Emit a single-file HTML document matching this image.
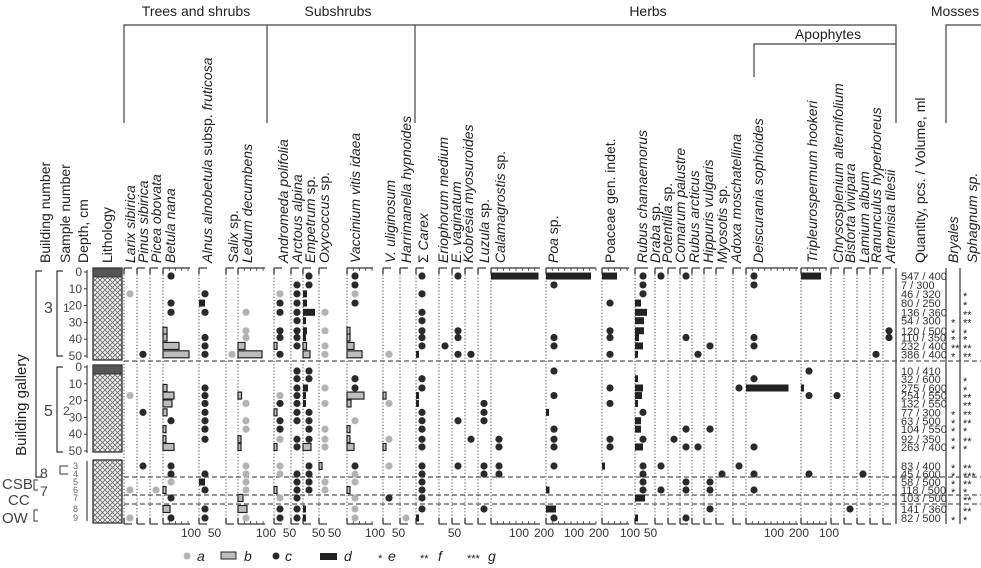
<!DOCTYPE html>
<html><head><meta charset="utf-8"><style>
html,body{margin:0;padding:0;background:#fff}
svg{display:block;font-family:"Liberation Sans",sans-serif;fill:#222}
</style></head><body>
<svg id="chart" width="981" height="568" viewBox="0 0 981 568" xmlns="http://www.w3.org/2000/svg">
<g id="hdr" stroke="#444" stroke-width="1.2" fill="none">
<polyline points="124,123 124,25 896,25 896,123"/>
<line x1="267" y1="25" x2="267" y2="123"/>
<line x1="415" y1="25" x2="415" y2="123"/>
<polyline points="754,77 754,44 896,44"/>
<polyline points="946,123 946,25 981,25"/>
</g>
<g font-size="14">
<text x="196" y="16" text-anchor="middle">Trees and shrubs</text>
<text x="338" y="16" text-anchor="middle">Subshrubs</text>
<text x="648" y="16" text-anchor="middle">Herbs</text>
<text x="828" y="39" text-anchor="middle">Apophytes</text>
<text x="955" y="16" text-anchor="middle">Mosses</text>
</g>
<g id="labels" font-size="14"></g>
<g id="left"></g>
<g id="cols"></g>
<g id="marks"></g>
<g id="legend" font-size="14"></g>
</svg>
<script>
const NS="http://www.w3.org/2000/svg";
function mk(tag,attrs,parent,txt){const e=document.createElementNS(NS,tag);for(const k in attrs)e.setAttribute(k,attrs[k]);if(txt!==undefined)e.textContent=txt;parent.appendChild(e);return e;}

// ---- data ----
const taxa=["Larix sibirica","Pinus sibirica","Picea obovata","Betula nana","Alnus alnobetula subsp. fruticosa","Salix sp.","Ledum decumbens","Andromeda polifolia","Arctous alpina","Empetrum sp.","Oxycoccus sp.","Vaccinium vitis idaea","V. uliginosum","Harrimanella hypnoides","Σ Carex","Eriophorum medium","E. vaginatum","Kobresia myosuroides","Luzula sp.","Calamagrostis sp.","Poa sp.","Poaceae gen. indet.","Rubus chamaemorus","Draba sp.","Potentilla sp.","Comarum palustre","Rubus arcticus","Hippuris vulgaris","Myosotis sp.","Adoxa moschatellina","Deiscurania sophioides","Tripleurospermum hookeri","Chrysosplenium alternifolium","Bistorta vivipara","Lamium album","Ranunculus hyperboreus","Artemisia tilesii"];
const sampleSection=[0,0,0,0,0,0,0,0,0,0,1,1,1,1,1,1,1,1,1,1,2,2,2,2,2,2,2];
const sampleDepth=[2.4,7.7,13,18.5,24,29,35,39,44,49,2.4,7,12.5,17,21.7,27,32,37,43,47.6,0,1,2,3,4,5.3,6.4];
const quantities=["547 / 400","7 / 300","46 / 320","80 / 250","136 / 360","54 / 300","120 / 500","110 / 350","232 / 400","386 / 400","10 / 410","32 / 600","275 / 600","254 / 550","132 / 550","77 / 300","63 / 500","104 / 550","92 / 350","263 / 400","83 / 400","45 / 600","58 / 500","118 / 500","103 / 500","141 / 360","82 / 500"];
const bryales=[0,0,0,0,0,1,1,1,2,1,0,0,0,0,0,1,1,1,1,1,1,1,1,1,0,0,1];
const sphagnum=[0,0,1,1,2,2,1,1,2,2,0,1,1,2,2,2,2,1,2,1,2,3,2,1,2,2,1];
const dotsA=[[2,13,23,26],[],[23],[22],[],[9],[4,6,7,14,16,17,20,21,22,23,26],[2,13,18,20,21,24],[],[],[4,6,8,9,12,14,17,18,19,22,23],[2,16,21,22,24,25,26],[9,14,18,20],[26],[],[],[],[],[],[],[],[],[],[],[],[],[],[],[],[],[],[],[],[],[],[],[]];
const dotsC=[[],[9,15,20],[],[0,3,4,16,20,21,24,26],[2,4,7,8,9,12,13,14,15,16,17,18,21,23,25,26],[],[],[3,4,6,7,9,14,16,17,25,26],[1,2,3,4,5,6,7,8,10,11,12,13,14,15,16,18,19,21,22,23,24,25,26],[0,1,10,11,15,16,17,18,20,21,22,23],[],[0,1,3,11,12,20],[24],[],[0,2,4,5,6,7,8,11,12,15,16,17,18,19,20,21,22,23,24,25],[8],[0,6,7,9,16,20],[9,18],[14,15,16,20,21,25],[18,19,20,21],[1,7,8,10,13,17,18,19,20,26],[3,6,7,9,12,14,18,19],[0,1,2,15,18,20,21,22,23],[0,20,23],[18],[0,7,17,19,22,23,26],[9,19],[8,17,22,23,25],[21],[12,20],[0,1,7,8,11,19,21,23],[10,13,21],[13],[25],[21],[9],[6,7]];
const barTaxon=[3,3,3,3,3,3,3,3,3,3,3,3,3,4,4,6,6,6,6,6,6,6,7,7,7,7,9,9,9,9,9,9,9,9,9,9,9,9,9,9,10,11,11,11,11,11,11,11,11,11,11,12,12,14,14,14,14,19,20,20,20,20,21,21,22,22,22,22,22,22,22,22,22,22,22,22,22,22,22,22,30,31,31];
const barRow=[6,7,8,9,12,13,14,15,17,18,19,23,25,3,22,8,9,13,18,19,24,25,8,15,19,23,2,3,4,5,6,7,8,9,12,13,14,19,25,26,20,6,7,8,9,13,14,17,18,19,23,13,19,9,13,14,26,0,0,15,23,25,0,20,3,4,5,6,7,8,9,11,12,13,14,16,17,19,24,26,12,0,12];
const barType=["b","b","b","b","b","b","b","b","b","b","b","b","b","d","d","b","b","b","b","b","b","b","b","b","b","b","d","d","d","d","d","d","b","b","d","d","d","b","d","d","b","b","b","b","b","b","b","b","b","b","b","b","b","d","d","d","d","d","d","d","d","d","d","d","d","d","d","d","d","d","d","d","d","d","d","d","d","d","d","d","d","d","d"];
const barValue=[16,16,64,104,16,44,36,16,12,12,44,12,28,24,24,28,96,14,12,12,20,36,12,12,12,12,16,16,48,12,16,12,14,28,20,12,10,32,8,12,8,12,12,28,60,68,16,12,12,28,12,12,12,8,8,8,8,190,180,12,14,40,60,10,24,48,36,36,16,32,8,8,32,28,12,24,24,32,40,8,170,80,4];
const tickText=["100","50","100","50","50","50","100","50","50","100","200","100","200","100","50","100","200","100"];
const tickTaxon=[3,4,6,7,9,10,11,12,15,19,19,20,20,21,22,30,30,31];
const tickUnits=[100,50,100,50,50,50,100,50,50,100,200,100,200,100,50,100,200,100];

// ---- layout ----
const colX=[124,137,150,163,199,226,238,274,291,303,319,347,383,400,416,439,452,465,478,491,546,602,635,655,668,680,692,704,716,733,746,801,831,844,857,870,883];
const colEnd=[132,145,158,190,207,234,265,282,299,311,327,373,391,408,424,447,460,473,486,540,596,629,648,663,676,688,700,712,724,741,798,827,839,852,865,878,891];
const labX=[130,143,156,170,207,233,247,283,297,310,324,355,390,406,423,443,456,468,484,500,553,610,642,655,667,680,694,708,722,736,758,812,838,850,864,876,890];
const UNIT=0.25;
const TOP=268,BOT=524;
const secTop=[272,367,0];
const bottomY=[466,474,482,490,498,509,518];
function rowY(r){const s=sampleSection[r];return s<2?secTop[s]+sampleDepth[r]*1.68:bottomY[Math.round(sampleDepth[r])];}
function dotX(i){return colX[i]+((colEnd[i]-colX[i])>10?8:6);}
function barX(i,v){return UNIT*v;}

const labels=document.getElementById('labels'),cols=document.getElementById('cols'),marks=document.getElementById('marks'),left=document.getElementById('left');

const plain=/^(sp\.|subsp\.|gen\.|indet\.|Σ)$/;
taxa.forEach((t,i)=>{
  const tx=mk('text',{x:labX[i]+5,y:263,transform:`rotate(-90 ${labX[i]+5} 263)`},labels);
  
  
  t.split(' ').forEach((w,k)=>{const sp=mk('tspan',{},tx,(k?' ':'')+w);if(!plain.test(w)&&i!==21)sp.setAttribute('font-style','italic');});
});
[["Building number",50],["Sample number",70],["Depth, cm",88],["Lithology",112],["Quantity, pcs. / Volume, ml",925],["Bryales",958],["Sphagnum sp.",977]].forEach(([t,x],k)=>{
  const tx=mk('text',{x:x,y:263,transform:`rotate(-90 ${x} 263)`,'font-style':k>4?'italic':'normal'},labels,t);
  
  
});

taxa.forEach((t,i)=>{
  const g=mk('g',{},cols);
  
  
  const x=colX[i],e=colEnd[i];
  mk('line',{x1:x,y1:TOP,x2:x,y2:BOT,stroke:'#444','stroke-width':1,'stroke-dasharray':'1.2,2'},g);
  mk('line',{x1:x,y1:TOP,x2:x,y2:TOP+6,stroke:'#333','stroke-width':1.3},g);
  mk('line',{x1:x,y1:BOT-6,x2:x,y2:BOT,stroke:'#333','stroke-width':1.3},g);
  [TOP,BOT].forEach(y=>{
    mk('line',{x1:x,y1:y,x2:e,y2:y,stroke:'#333','stroke-width':1.2},g);
    if(e-x>20){for(let u=25;x+u*UNIT<=e+0.5;u+=25){mk('line',{x1:x+u*UNIT,y1:y===TOP?y:y-3,x2:x+u*UNIT,y2:y===TOP?y+3:y,stroke:'#333','stroke-width':0.8},g);}}
  });
});
tickText.forEach((t,k)=>{
  const i=tickTaxon[k];
  const el=mk('text',{x:colX[i]+tickUnits[k]*UNIT+3,y:537,'font-size':12,'text-anchor':'middle',fill:'#333'},cols,t);
  
  
});
[896,946,960].forEach(x=>{mk('line',{x1:x,y1:TOP,x2:x,y2:BOT,stroke:'#333','stroke-width':1.2},cols);});

[361,477,495,504].forEach(y=>{
  const l=mk('line',{x1:124,y1:y,x2:981,y2:y,stroke:'#555','stroke-width':1.3,'stroke-dasharray':'5,3'},cols);
  
  
});

dotsA.forEach((rows,i)=>rows.forEach(r=>{
  const c=mk('circle',{cx:dotX(i),cy:rowY(r),r:3.6,fill:'#b3b3b3'},marks);
  
  
}));
dotsC.forEach((rows,i)=>rows.forEach(r=>{
  const c=mk('circle',{cx:dotX(i),cy:rowY(r),r:3.6,fill:'#2a2a2a'},marks);
  
  
}));
barTaxon.forEach((i,k)=>{
  const y=rowY(barRow[k]),w=Math.max(3,barX(i,barValue[k]));
  const b=barType[k]==='b';
  const rc=mk('rect',{x:colX[i],y:y-3.5,width:w,height:7,fill:b?'#bdbdbd':'#222',stroke:'#222','stroke-width':b?1.2:0},marks);
  
  
});
quantities.forEach((q,r)=>{
  const t=mk('text',{x:901,y:rowY(r)+4,'font-size':11,fill:'#333'},marks,q);
  
  
});
bryales.forEach((n,r)=>{if(n){const t=mk('text',{x:951,y:rowY(r)+6,'font-size':11},marks,'*'.repeat(n));
  
  }});
sphagnum.forEach((n,r)=>{if(n){const t=mk('text',{x:963,y:rowY(r)+6,'font-size':11},marks,'*'.repeat(n));
  
  }});

function litho(y1,y2,peat){
  const g=mk('g',{},left);
  
  
  mk('rect',{x:93,y:y1,width:29,height:y2-y1,fill:'url(#hatch)',stroke:'#333','stroke-width':1.3},g);
  if(peat)mk('rect',{x:93,y:y1,width:29,height:9,fill:'#555',stroke:'#333'},g);
}
const defs=mk('defs',{},document.getElementById('chart'));
const pat=mk('pattern',{id:'hatch',width:5,height:5,patternUnits:'userSpaceOnUse'},defs);
mk('rect',{width:5,height:5,fill:'#f2f2f2'},pat);
mk('path',{d:'M0,0 L5,5 M5,0 L0,5',stroke:'#666','stroke-width':0.8},pat);
litho(268,360,true);litho(365,452,true);litho(460,523,false);
[[272,0],[367,1]].forEach(([y0])=>{
  mk('line',{x1:87,y1:y0-2,x2:87,y2:y0+86,stroke:'#333','stroke-width':1.1},left);
  for(let d=0;d<=50;d+=10){
    mk('line',{x1:84,y1:y0+d*1.68,x2:87,y2:y0+d*1.68,stroke:'#333'},left);
    const t=mk('text',{x:82,y:y0+d*1.68+4,'font-size':12,'text-anchor':'end',fill:'#444'},left,String(d));
    
    
  }
});
mk('line',{x1:87,y1:461,x2:87,y2:521,stroke:'#333','stroke-width':1.1},left);
["3","4","5","6","7","8","9"].forEach((s,k)=>{const t=mk('text',{x:73,y:bottomY[k]+3,'font-size':9,fill:'#666'},left,s);
  
  });
mk('polyline',{points:'42,271 36,271 36,477 42,477',fill:'none',stroke:'#333','stroke-width':1.2},left);
mk('polyline',{points:'63,271 57,271 57,356 63,356',fill:'none',stroke:'#333','stroke-width':1.2},left);
mk('polyline',{points:'63,367 57,367 57,452 63,452',fill:'none',stroke:'#333','stroke-width':1.2},left);
mk('polyline',{points:'68,466 60,466 60,474 68,474',fill:'none',stroke:'#333','stroke-width':1},left);
mk('polyline',{points:'38,480 34,480 34,490 38,490',fill:'none',stroke:'#333','stroke-width':1},left);
mk('polyline',{points:'38,510 34,510 34,521 38,521',fill:'none',stroke:'#333','stroke-width':1},left);
const bg=mk('text',{x:26,y:405,'font-size':15,'text-anchor':'middle',transform:'rotate(-90 26 405)'},left,'Building gallery');


[["3",44,313,16],["5",44,416,16],["1",63,312,12],["2",63,415,12],["8",40,478,14],["7",40,496,14],["CSB",2,489,15],["CC",8,505,15],["OW",2,523,15]].forEach(([s,x,y,f])=>{
  const t=mk('text',{x:x,y:y,'font-size':f,fill:'#444'},left,s);
  
  
});

const lg=document.getElementById('legend');
mk('circle',{cx:187,cy:556,r:3.5,fill:'#b3b3b3'},lg);mk('text',{x:197,y:561,'font-style':'italic'},lg,'a');
mk('rect',{x:221,y:552,width:15,height:7,fill:'#bdbdbd',stroke:'#222'},lg);mk('text',{x:244,y:561,'font-style':'italic'},lg,'b');
mk('circle',{cx:276,cy:556,r:3.5,fill:'#2a2a2a'},lg);mk('text',{x:285,y:561,'font-style':'italic'},lg,'c');
mk('rect',{x:320,y:553,width:17,height:7,fill:'#222'},lg);mk('text',{x:344,y:561,'font-style':'italic'},lg,'d');
mk('text',{x:378,y:562,'font-size':11},lg,'*');mk('text',{x:388,y:561,'font-style':'italic'},lg,'e');
mk('text',{x:420,y:562,'font-size':11},lg,'**');mk('text',{x:438,y:561,'font-style':'italic'},lg,'f');
mk('text',{x:467,y:562,'font-size':11},lg,'***');mk('text',{x:488,y:561,'font-style':'italic'},lg,'g');
</script>
</body></html>
